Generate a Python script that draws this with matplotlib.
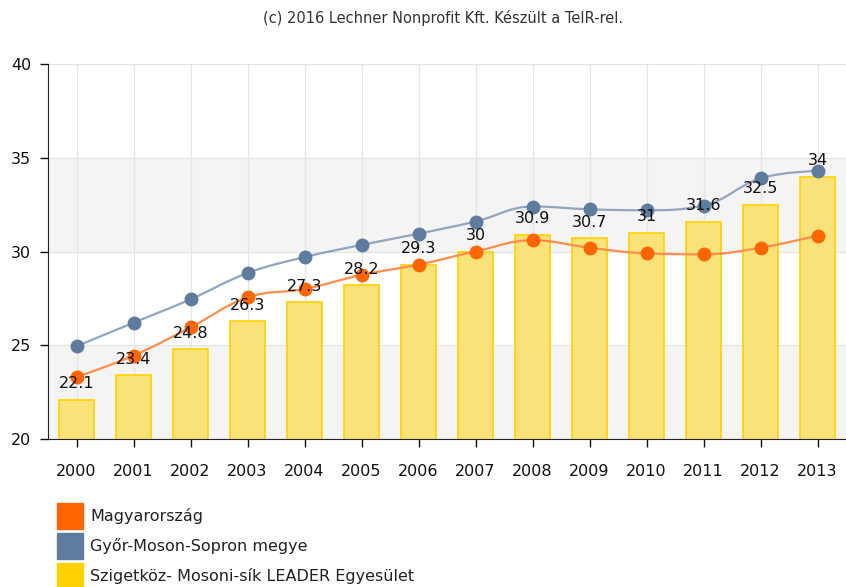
import matplotlib.pyplot as plt
import numpy as np
from matplotlib.path import Path
from matplotlib.patches import PathPatch, Rectangle

years = ['2000', '2001', '2002', '2003', '2004', '2005', '2006',
         '2007', '2008', '2009', '2010', '2011', '2012', '2013']
leader = [22.1, 23.4, 24.8, 26.3, 27.3, 28.2, 29.3, 30, 30.9, 30.7, 31, 31.6, 32.5, 34]
magyarorszag = [23.3, 24.45, 25.95, 27.55, 28.0, 28.75, 29.3, 30.0, 30.6, 30.2, 29.9, 29.85, 30.2, 30.85]
gyor = [24.95, 26.2, 27.45, 28.85, 29.7, 30.35, 30.95, 31.6, 32.4, 32.25, 32.2, 32.45, 33.9, 34.3]

legend_labels = ['Magyarország', 'Győr-Moson-Sopron megye',
                 'Szigetköz- Mosoni-sík LEADER Egyesület']
legend_colors = ['#ff6600', '#5f7b9e', '#ffd200']


def spline_path(xs, ys):
    # highcharts-like spline through the points, as cubic bezier segments
    verts = [(xs[0], ys[0])]
    codes = [Path.MOVETO]
    n = len(xs)
    ctrl = []
    for i in range(n):
        if i == 0 or i == n - 1:
            ctrl.append(None)
            continue
        lx, ly = xs[i - 1], ys[i - 1]
        nx, ny = xs[i + 1], ys[i + 1]
        px, py = xs[i], ys[i]
        s = 1.5
        lcx = (s * px + lx) / (s + 1)
        lcy = (s * py + ly) / (s + 1)
        rcx = (s * px + nx) / (s + 1)
        rcy = (s * py + ny) / (s + 1)
        corr = ((rcy - lcy) * (rcx - px)) / (rcx - lcx) + py - rcy
        lcy += corr
        rcy += corr
        if lcy > ly and lcy > py:
            lcy = max(ly, py); rcy = 2 * py - lcy
        elif lcy < ly and lcy < py:
            lcy = min(ly, py); rcy = 2 * py - lcy
        if rcy > ny and rcy > py:
            rcy = max(ny, py); lcy = 2 * py - rcy
        elif rcy < ny and rcy < py:
            rcy = min(ny, py); lcy = 2 * py - rcy
        ctrl.append(((lcx, lcy), (rcx, rcy)))
    for i in range(1, n):
        c1 = ctrl[i - 1][1] if ctrl[i - 1] else (xs[i - 1], ys[i - 1])
        c2 = ctrl[i][0] if ctrl[i] else (xs[i], ys[i])
        verts += [c1, c2, (xs[i], ys[i])]
        codes += [Path.CURVE4] * 3
    return Path(verts, codes)


fig = plt.figure(figsize=(8.46, 5.87), dpi=100)
ax = fig.add_axes([48 / 846, 148 / 587, 798 / 846, 375 / 587])

x = np.arange(len(years))

# alternating bands
for lo in (20, 30):
    ax.axhspan(lo, lo + 5, color='#f4f4f4', zorder=0, lw=0)

ax.bar(x, leader, width=0.6, color='#f9e27a', edgecolor='#ffd200', linewidth=1.2, zorder=2)

ax.add_patch(PathPatch(spline_path(x, gyor), fill=False, edgecolor='#92a5bf', lw=1.6, zorder=3))
ax.plot(x, gyor, 'o', color='#5f7b9e', ms=9, zorder=4)
ax.add_patch(PathPatch(spline_path(x, magyarorszag), fill=False, edgecolor='#ff8d4d', lw=1.6, zorder=3))
ax.plot(x, magyarorszag, 'o', color='#ff6600', ms=9, zorder=4)

for xi, v in zip(x, leader):
    ax.annotate('%g' % v, (xi, v), xytext=(0, 6), textcoords='offset points',
                ha='center', va='bottom', fontsize=11.5, color='#111111', zorder=5)

ax.set_xlim(-0.5, len(years) - 0.5)
ax.set_ylim(20, 40)
ax.set_yticks([20, 25, 30, 35, 40])
ax.set_xticks(x)
ax.set_xticklabels(years)
ax.tick_params(labelsize=11.5, colors='#111111', length=6, width=1)
ax.tick_params(axis='x', pad=12)
ax.tick_params(axis='y', pad=6)
ax.grid(True, color='#e4e4e4', lw=0.9, zorder=1)
ax.set_axisbelow(True)
for s in ('top', 'right'):
    ax.spines[s].set_visible(False)
ax.spines['left'].set_color('#222222')
ax.spines['bottom'].set_color('#222222')

fig.text(443 / 846, 1 - 18 / 587, '(c) 2016 Lechner Nonprofit Kft. Készült a TeIR-rel.',
         ha='center', va='center', fontsize=10.5, color='#333333')

for i, (lab, col) in enumerate(zip(legend_labels, legend_colors)):
    top = 503 + i * 30
    fig.add_artist(Rectangle((57 / 846, 1 - (top + 26) / 587), 26 / 846, 26 / 587,
                             transform=fig.transFigure, color=col))
    fig.text(90 / 846, 1 - (top + 13) / 587, lab, ha='left', va='center',
             fontsize=11.5, color='#222222')

fig.savefig('out.png', dpi=100)
